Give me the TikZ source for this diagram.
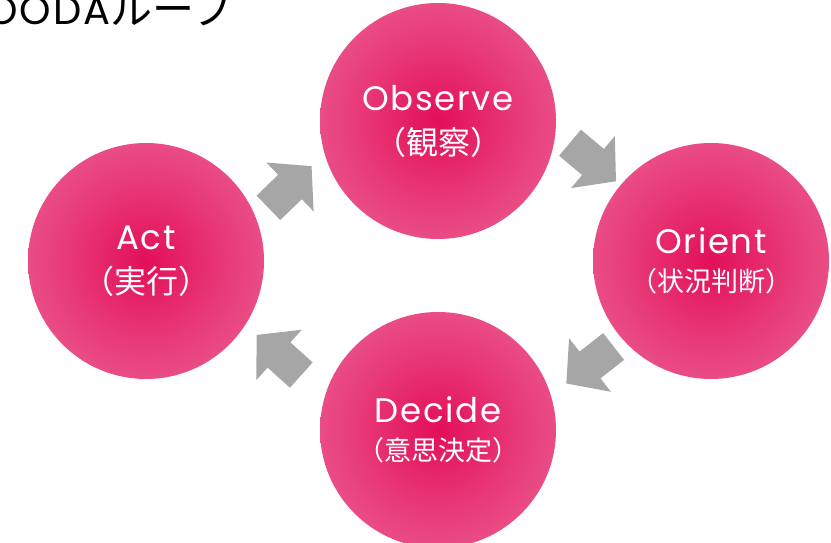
\documentclass[tikz,border=0pt]{standalone}
\usepackage{fontspec}
\setmainfont{Poppins}[LetterSpace=5]
\newfontfamily\jp{Noto Sans CJK JP}

\definecolor{pkcenter}{RGB}{227,15,88}
\definecolor{pkinner}{RGB}{232,60,122}
\definecolor{pkouter}{RGB}{237,104,154}
\definecolor{pkedge}{RGB}{243,150,188}
\definecolor{arrowgray}{RGB}{166,166,166}
\pgfdeclareradialshading{pinkball}{\pgfpoint{0bp}{0bp}}{color(0bp)=(pkcenter); color(18bp)=(pkinner); color(37bp)=(pkouter); color(50bp)=(pkedge)}

\begin{document}
\begin{tikzpicture}[x=1pt, y=1pt,
  phase/.style={circle, minimum size=236pt, inner sep=0pt, shading=pinkball, text=white, align=center},
  flowarrow/.pic={\fill[arrowgray] (-30,-17) -- (0,-17) -- (0,-34) -- (30,0) -- (0,34) -- (0,17) -- (-30,17) -- cycle;}]
\useasboundingbox (0,0) rectangle (831,542);
\clip (0,0) rectangle (831,542);
% title
\node[anchor=base east, inner sep=0pt] (title) at (234,517) {\fontsize{40}{48}\selectfont OODA{\jp\fontsize{42}{48}\selectfont ループ}};
% four phases
\node[phase, font=\fontsize{34}{44}\selectfont] (obs) at (438,421) {Observe\\{\jp\fontsize{32}{44}\selectfont （観察）}};
\node[phase, font=\fontsize{34}{44}\selectfont] (act) at (146,281) {Act\\{\jp\fontsize{32}{44}\selectfont （実行）}};
\node[phase, font=\fontsize{34}{38}\selectfont] (ori) at (711,281) {Orient\\{\jp\fontsize{27}{38}\selectfont （状況判断）}};
\node[phase, font=\fontsize{34}{38}\selectfont] (dec) at (438,112) {Decide\\{\jp\fontsize{27}{38}\selectfont （意思決定）}};
% arrows
\pic[rotate=44] at (290,355) {flowarrow};
\pic[rotate=-40] at (593,380) {flowarrow};
\pic[rotate=-142] at (590,177) {flowarrow};
\pic[rotate=138] at (279,187) {flowarrow};
\end{tikzpicture}
\end{document}
